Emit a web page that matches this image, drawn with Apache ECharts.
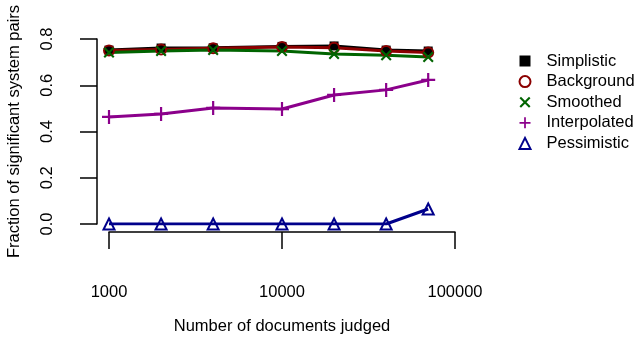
<!DOCTYPE html>
<html>
<head>
<meta charset="utf-8">
<script src="https://cdn.jsdelivr.net/npm/echarts@6/dist/echarts.min.js"></script>
<style>html,body{margin:0;padding:0;background:#fff}#c{width:637px;height:338px}</style>
</head>
<body>
<div id="c"></div>
<script>
var docsJudged = [1000, 2000, 4000, 10000, 20000, 40000, 70000];
var simplistic   = [0.752, 0.761, 0.762, 0.768, 0.770, 0.752, 0.748];
var background   = [0.750, 0.755, 0.760, 0.765, 0.762, 0.748, 0.742];
var smoothed     = [0.742, 0.748, 0.752, 0.748, 0.735, 0.730, 0.722];
var interpolated = [0.463, 0.476, 0.502, 0.497, 0.558, 0.580, 0.623];
var pessimistic  = [0.000, 0.000, 0.000, 0.000, 0.000, 0.000, 0.065];
var yTicks = [0.0, 0.2, 0.4, 0.6, 0.8];

var FONT = 'Liberation Sans';
var FS = 16.5;
var plusPath = 'path://M-1.1,-7H1.1V-1.1H7V1.1H1.1V7H-1.1V1.1H-7V-1.1H-1.1Z';
var crossPath = 'path://M4.17,-5.73L5.73,-4.17L1.556,0L5.73,4.17L4.17,5.73L0,1.556L-4.17,5.73L-5.73,4.17L-1.556,0L-5.73,-4.17L-4.17,-5.73L0,-1.556Z';

function pairs(ys){ return docsJudged.map(function(x,i){ return [x, ys[i]]; }); }

function mk(name, ys, color, symbol, size, style){
  return {
    name: name, type: 'line', data: pairs(ys),
    symbol: symbol, symbolSize: size,
    showAllSymbol: true,
    lineStyle: {color: color, width: 3},
    itemStyle: style,
    emphasis: {disabled: true},
    animation: false
  };
}

var chart = echarts.init(document.getElementById('c'), null, {renderer: 'canvas'});
chart.setOption({
  backgroundColor: '#fff',
  animation: false,
  textStyle: {fontFamily: FONT},
  grid: {left: 109, right: 182, top: 39, bottom: 114, containLabel: false, outerBoundsMode: 'none'},
  xAxis: {
    type: 'log', logBase: 10, min: 1000, max: 100000,
    offset: 8,
    name: 'Number of documents judged', nameLocation: 'middle', nameGap: 86,
    nameTextStyle: {fontSize: FS, color: '#000', fontFamily: FONT},
    axisLine: {show: true, onZero: false, lineStyle: {color: '#000', width: 1.5}},
    axisTick: {show: true, inside: false, length: 17, lineStyle: {color: '#000', width: 1.5}},
    axisLabel: {fontSize: FS, color: '#000', margin: 52, fontFamily: FONT,
      formatter: function(v){ return String(Math.round(v)); }},
    splitLine: {show: false}, minorTick: {show: false}
  },
  yAxis: {
    type: 'value', min: 0, max: 0.8, interval: 0.2,
    offset: 12,
    name: 'Fraction of significant system pairs', nameLocation: 'middle', nameGap: 74, nameRotate: 90,
    nameTextStyle: {fontSize: FS, color: '#000', fontFamily: FONT},
    axisLine: {show: true, onZero: false, lineStyle: {color: '#000', width: 1.5}},
    axisTick: {show: true, inside: false, length: 17, lineStyle: {color: '#000', width: 1.5}},
    axisLabel: {fontSize: FS, color: '#000', margin: 41, rotate: 90, fontFamily: FONT,
      formatter: function(v){ return v.toFixed(1); }},
    splitLine: {show: false}
  },
  legend: {
    orient: 'vertical', left: 513.5, top: 47.5, itemGap: 3.6, itemWidth: 11, itemHeight: 11,
    selectedMode: false,
    textStyle: {fontSize: FS, lineHeight: 17, color: '#000', fontFamily: FONT, padding: [0,0,0,11]},
    data: [
      {name: 'Simplistic', icon: 'rect', itemStyle: {color: '#000', borderWidth: 0}},
      {name: 'Background', icon: 'circle', itemStyle: {color: 'transparent', borderColor: '#8B0000', borderWidth: 2}},
      {name: 'Smoothed', icon: crossPath, itemStyle: {color: '#006400', borderWidth: 0}},
      {name: 'Interpolated', icon: plusPath, itemStyle: {color: '#8B008B', borderWidth: 0}},
      {name: 'Pessimistic', icon: 'triangle', itemStyle: {color: 'transparent', borderColor: '#00008B', borderWidth: 2}}
    ]
  },
  series: [
    mk('Simplistic', simplistic, '#000', 'rect', 9, {color: '#000'}),
    mk('Background', background, '#8B0000', 'circle', 10, {color: 'transparent', borderColor: '#8B0000', borderWidth: 2}),
    mk('Smoothed', smoothed, '#006400', crossPath, 11, {color: '#006400'}),
    mk('Interpolated', interpolated, '#8B008B', plusPath, 14, {color: '#8B008B'}),
    mk('Pessimistic', pessimistic, '#00008B', 'triangle', 11, {color: 'transparent', borderColor: '#00008B', borderWidth: 2})
  ]
});
</script>
</body>
</html>
